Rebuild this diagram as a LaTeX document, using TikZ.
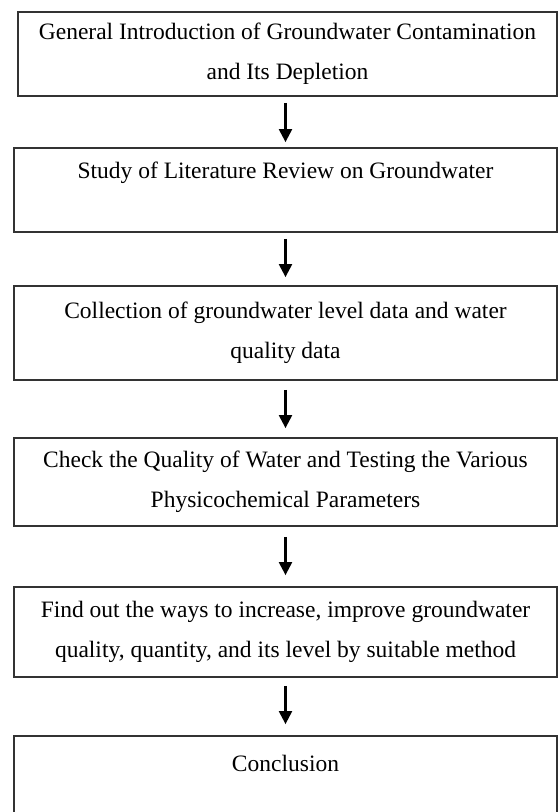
\documentclass[tikz,border=0pt]{standalone}
\usepackage{fontspec}
\setmainfont{Liberation Serif}
\usetikzlibrary{arrows.meta}

\tikzset{
  stagebox/.style={draw=black!80, line width=1.8pt, rectangle, align=center,
    font=\fontsize{23.5}{40}\selectfont, inner sep=0pt},
  arrowline/.style={-{Triangle[length=13pt,width=13pt]}, line width=2.2pt}
}

\begin{document}
\begin{tikzpicture}[x=1pt,y=-1pt]
	\useasboundingbox (0,0) rectangle (560,812);
	\node[stagebox, minimum width=539pt, minimum height=84pt] (b1) at (287.5,54)
		{General Introduction of Groundwater Contamination\\ and Its Depletion};
	\node[stagebox, minimum width=543pt, minimum height=84pt] (b2) at (285.5,190)
		{Study of Literature Review on Groundwater\\ ~};
	\node[stagebox, minimum width=543pt, minimum height=94pt] (b3) at (285.5,333)
		{Collection of groundwater level data and water\\ quality data};
	\node[stagebox, minimum width=543pt, minimum height=88pt] (b4) at (285.5,482)
		{Check the Quality of Water and Testing the Various\\ Physicochemical Parameters};
	\node[stagebox, minimum width=543pt, minimum height=90pt] (b5) at (285.5,632)
		{Find out the ways to increase, improve groundwater\\ quality, quantity, and its level by suitable method};
	\node[stagebox, minimum width=543pt, minimum height=94pt] (b6) at (285.5,783)
		{Conclusion\\ ~};
	% arrows between the stages
	\draw[arrowline, shorten <=6pt, shorten >=5pt] (b1.south -| b2) -- (b2.north);
	\draw[arrowline, shorten <=6pt, shorten >=8pt] (b2.south) -- (b3.north);
	\draw[arrowline, shorten <=9pt, shorten >=9pt] (b3.south) -- (b4.north);
	\draw[arrowline, shorten <=10pt, shorten >=11pt] (b4.south) -- (b5.north);
	\draw[arrowline, shorten <=8pt, shorten >=11pt] (b5.south) -- (b6.north);
\end{tikzpicture}
\end{document}
